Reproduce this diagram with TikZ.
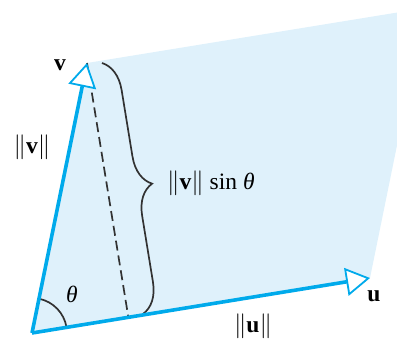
\documentclass[tikz,border=0pt]{standalone}
\usepackage{fontspec}
\setmainfont{Liberation Serif}
\usetikzlibrary{arrows.meta,decorations.pathreplacing,calc}
\definecolor{vecblue}{RGB}{0,170,235}
\definecolor{planefill}{RGB}{223,241,251}
\definecolor{inkgray}{RGB}{50,50,50}
\tikzset{
  vecline/.style={draw=vecblue, line width=3.6pt,
    -{Triangle[length=24pt 0 0,width=28pt 0 0,fill=white,line width=1.8pt 0 0]}},
  dashline/.style={draw=inkgray, line width=1.7pt, dash pattern=on 10pt off 5pt},
  bracestyle/.style={draw=inkgray, line width=1.7pt, decorate,
    decoration={brace, amplitude=30pt}},
  lbl/.style={inner sep=0pt, font=\fontsize{23.5}{27}\selectfont}
}
\begin{document}
\begin{tikzpicture}[x=1pt,y=1pt]
\useasboundingbox (0,0) rectangle (397,341);
\coordinate (O) at (32,8);
\coordinate (V) at (87,278);
\coordinate (U) at (370,63);
\coordinate (W) at (425,333);
\coordinate (F) at ($(O)!(V)!(U)$);
\coordinate (B1) at (102,278);
\coordinate (B2) at (143,27);
\begin{scope}
  \clip (0,0) rectangle (397,341);
  \fill[planefill] (O) -- (U) -- (W) -- (V) -- cycle;
\end{scope}
\draw[dashline] (V) -- (F);
\draw[bracestyle] (B1) -- (B2);
\draw[inkgray, line width=1.7pt] ($(O)!35pt!(U)$) arc[start angle=9.24, end angle=78.5, radius=35pt];
\draw[vecline] (O) -- (V);
\draw[vecline] (O) -- (U);
\node[lbl] (vlab) at (60,276) {\textbf{v}};
\node[lbl] (ulab) at (374,45) {\textbf{u}};
\node[lbl] (vnorm) at (32,194) {$\|$\textbf{v}$\|$};
\node[lbl] (unorm) at (253,15) {$\|$\textbf{u}$\|$};
\node[lbl] (theta) at (72,47) {\textit{θ}};
\node[lbl, anchor=west] (proj) at (167,158) {$\|$\textbf{v}$\|$ sin \textit{θ}};
\end{tikzpicture}
\end{document}
